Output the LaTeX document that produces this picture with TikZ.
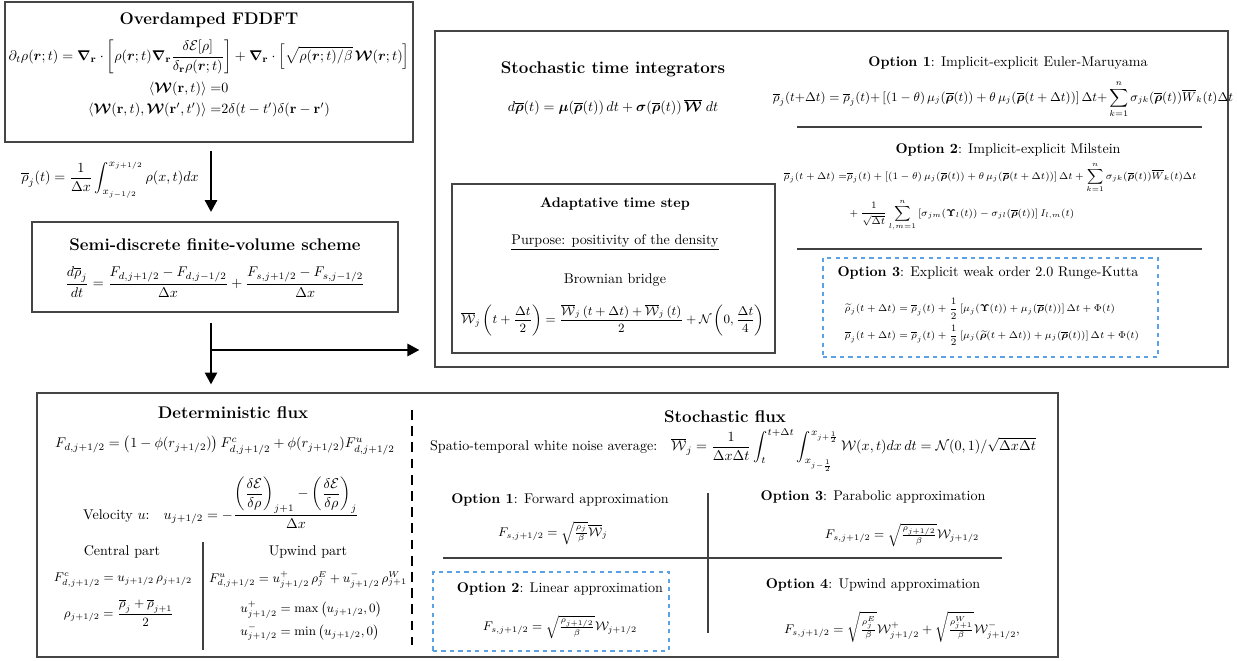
\documentclass[tikz,border=0pt]{standalone}
\usepackage{amssymb}
\usepackage{amsmath,bm}
\usetikzlibrary{arrows.meta,fit}

\definecolor{framegray}{HTML}{454545}
\definecolor{optionblue}{HTML}{5AA2E4}

\begin{document}
\begin{tikzpicture}[x=0.71pt, y=-0.71pt,
    frame/.style={draw=framegray, line width=2.1pt, inner sep=0pt},
    inner frame/.style={draw=framegray, line width=1.1pt, inner sep=0pt},
    option frame/.style={draw=optionblue, dashed, line width=0.8pt,
        inner sep=0pt},
    separator/.style={draw=black!75, line width=0.75pt},
    flow line/.style={draw=black, line width=2pt},
    flow/.style={flow line, -{Triangle[length=8.5pt, width=8.5pt]}},
    box title/.style={font=\large\bfseries, inner sep=1pt},
    sub title/.style={font=\bfseries, inner sep=1pt},
    formula/.style={inner sep=1pt},
    small formula/.style={formula, font=\small}
]
\path[use as bounding box] (0,0) rectangle (1237,661);

% Overdamped FDDFT
\node[frame, fit={(5,2) (413,142)}] (fddft) {};
\node[box title] (fddft-title) at (209,20) {Overdamped FDDFT};
\node[formula] (fddft-eq) at (209,57)
    {$\displaystyle \partial_t\rho(\bm r;t)=\bm\nabla_{\mathbf r}\cdot
    \left[\rho(\bm r;t)\bm\nabla_{\mathbf r}
    \frac{\delta\mathcal E[\rho]}{\delta_{\mathbf r}\rho(\bm r;t)}\right]
    +\bm\nabla_{\mathbf r}\cdot\left[\sqrt{\rho(\bm r;t)/\beta}\,
    \bm{\mathcal W}(\bm r;t)\right]$};
\node[formula] (fddft-noise) at (209,100)
    {$\begin{aligned}
    \langle\bm{\mathcal W}(\mathbf r,t)\rangle =&0\\
    \langle\bm{\mathcal W}(\mathbf r,t),\bm{\mathcal W}(\mathbf r',t')\rangle
    =&2\delta(t-t')\delta(\mathbf r-\mathbf r')
    \end{aligned}$};

% Cell average and semi-discrete scheme
\coordinate (split) at (211,350);
\node[formula] (average) at (110,180)
    {$\displaystyle \overline\rho_j(t)=\frac{1}{\Delta x}
    \int_{x_{j-1/2}}^{x_{j+1/2}}\rho(x,t)dx$};
\node[frame, fit={(32,222) (398,312)}] (semi) {};
\node[box title] (semi-title) at (215,245)
    {Semi-discrete finite-volume scheme};
\node[formula] (semi-eq) at (215,282)
    {$\displaystyle \frac{d\overline\rho_j}{dt}
    =\frac{F_{d,j+1/2}-F_{d,j-1/2}}{\Delta x}
    +\frac{F_{s,j+1/2}-F_{s,j-1/2}}{\Delta x}$};

% Stochastic time integrators
\node[frame, fit={(435,31) (1228,367)}] (integrators) {};
\node[box title] (integrators-title) at (613,69)
    {Stochastic time integrators};
\node[formula] (integrators-eq) at (613,107)
    {$d\overline{\bm\rho}(t)=\bm\mu(\overline{\bm\rho}(t))\,dt
    +\bm\sigma(\overline{\bm\rho}(t))\,\overline{\bm{\mathcal W}}\;dt$};

\node[formula] (euler-title) at (1008,63)
    {\textbf{Option 1}: Implicit-explicit Euler-Maruyama};
\node[small formula] (euler-eq) at (1003,99)
    {$\displaystyle \overline\rho_j(t{+}\Delta t)=\overline\rho_j(t){+}
    \left[(1-\theta)\,\mu_j(\overline{\bm\rho}(t))
    +\theta\,\mu_j(\overline{\bm\rho}(t+\Delta t))\right]\Delta t{+}
    \sum_{k=1}^n\sigma_{jk}(\overline{\bm\rho}(t))\overline W_k(t)\Delta t$};
\draw[separator] (797,127) -- (1202,127);

\node[formula] (milstein-title) at (1008,150)
    {\textbf{Option 2}: Implicit-explicit Milstein};
\node[formula, font=\fontsize{7.5}{9}\selectfont, anchor=north west]
    (milstein-eq) at (782,160)
    {$\displaystyle\begin{aligned}
    \overline\rho_j(t+\Delta t)=&\overline\rho_j(t)
    +\left[(1-\theta)\,\mu_j(\overline{\bm\rho}(t))
    +\theta\,\mu_j(\overline{\bm\rho}(t+\Delta t))\right]\Delta t
    +\sum_{k=1}^n\sigma_{jk}(\overline{\bm\rho}(t))\overline W_k(t)\Delta t\\
    &+\frac{1}{\sqrt{\Delta t}}\sum_{l,m=1}^n
    \left[\sigma_{jm}(\bm\Upsilon_l(t))-\sigma_{jl}(\overline{\bm\rho}(t))\right]
    I_{l,m}(t)
    \end{aligned}$};
\draw[separator] (797,249) -- (1202,249);

\node[option frame, fit={(823,258) (1158,357)}] (rk) {};
\node[formula] (rk-title) at (988,273)
    {\textbf{Option 3}: Explicit weak order 2.0 Runge-Kutta};
\node[formula, font=\fontsize{7.4}{9.3}\selectfont, anchor=west] (rk-eq)
    at (843,322)
    {$\begin{aligned}
    \widetilde\rho_j(t+\Delta t)&=\overline\rho_j(t)+\frac12
    \left[\mu_j(\bm\Upsilon(t))+\mu_j(\overline{\bm\rho}(t))\right]\Delta t
    +\Phi(t)\\
    \overline\rho_j(t+\Delta t)&=\overline\rho_j(t)+\frac12
    \left[\mu_j(\widetilde{\bm\rho}(t+\Delta t))+\mu_j(\overline{\bm\rho}(t))\right]
    \Delta t+\Phi(t)
    \end{aligned}$};

% Adaptative time step
\node[inner frame, fit={(452,184) (775,353)}] (adaptive) {};
\node[sub title] (adaptive-title) at (615,204) {Adaptative time step};
\node[formula] (purpose) at (615,242)
    {\underline{Purpose: positivity of the density}};
\node[formula] (bridge) at (615,280) {Brownian bridge};
\node[formula, font=\fontsize{9.2}{11}\selectfont] (bridge-eq) at (613,320)
    {$\displaystyle \overline{\mathcal W}_j\left(t+\frac{\Delta t}{2}\right)
    =\frac{\overline{\mathcal W}_j\,(t+\Delta t)+\overline{\mathcal W}_j\,(t)}{2}
    +\mathcal N\left(0,\frac{\Delta t}{4}\right)$};

% Fluxes
\node[frame, fit={(37,393) (1058,657)}] (fluxes) {};

\node[box title] (det-title) at (233,413) {Deterministic flux};
\node[formula] (det-eq) at (225,445)
    {$F_{d,j+1/2}=\big(1-\phi(r_{j+1/2})\big)\,F^c_{d,j+1/2}
    +\phi(r_{j+1/2})F^u_{d,j+1/2}$};
\node[formula] (velocity) at (221,503)
    {Velocity $u$:\quad $\displaystyle u_{j+1/2}=-\frac{
    \left(\dfrac{\delta\mathcal E}{\delta\rho}\right)_{j+1}
    -\left(\dfrac{\delta\mathcal E}{\delta\rho}\right)_{j}}{\Delta x}$};

\node[formula] (central) at (122,552) {Central part};
\node[small formula] (central-eq) at (123,580)
    {$F^c_{d,j+1/2}=u_{j+1/2}\,\rho_{j+1/2}$};
\node[small formula] (central-avg) at (119,613)
    {$\rho_{j+1/2}=\dfrac{\overline\rho_j+\overline\rho_{j+1}}{2}$};
\draw[separator] (203,542) -- (203,650);
\node[formula] (upwind) at (308,552) {Upwind part};
\node[small formula] (upwind-eq) at (308,580)
    {$F^u_{d,j+1/2}=u^+_{j+1/2}\,\rho^E_j+u^-_{j+1/2}\,\rho^W_{j+1}$};
\node[small formula] (upwind-split) at (311,621)
    {$\begin{aligned}
    u^+_{j+1/2}&=\max\left(u_{j+1/2},0\right)\\
    u^-_{j+1/2}&=\min\left(u_{j+1/2},0\right)
    \end{aligned}$};

\draw[line width=2pt, dash pattern=on 7pt off 4.5pt] (412,410) -- (412,645);

\node[box title] (sto-title) at (725,417) {Stochastic flux};
\node[formula] (noise-avg) at (733,450)
    {Spatio-temporal white noise average:\quad
    $\displaystyle \overline{\mathcal W}_j=\frac{1}{\Delta x\Delta t}
    \int_t^{t+\Delta t}\int_{x_{j-\frac12}}^{x_{j+\frac12}}
    \mathcal W(x,t)dx\,dt=\mathcal N(0,1)/\sqrt{\Delta x\Delta t}$};

\draw[separator] (708,493) -- (708,633);
\draw[separator] (443,558) -- (1002,558);

\node[formula] (forward-title) at (560,500)
    {\textbf{Option 1}: Forward approximation};
\node[small formula] (forward-eq) at (553,533)
    {$F_{s,j+1/2}=\sqrt{\frac{\rho_j}{\beta}}\overline{\mathcal W}_j$};

\node[option frame, fit={(433,572) (669,651)}] (linear) {};
\node[formula] (linear-title) at (560,589)
    {\textbf{Option 2}: Linear approximation};
\node[small formula] (linear-eq) at (560,627)
    {$F_{s,j+1/2}=\sqrt{\frac{\rho_{j+1/2}}{\beta}}\mathcal W_{j+1/2}$};

\node[formula] (parabolic-title) at (873,497)
    {\textbf{Option 3}: Parabolic approximation};
\node[small formula] (parabolic-eq) at (902,535)
    {$F_{s,j+1/2}=\sqrt{\frac{\rho_{j+1/2}}{\beta}}\mathcal W_{j+1/2}$};

\node[formula] (upwind-title) at (873,585)
    {\textbf{Option 4}: Upwind approximation};
\node[small formula] (upwind-noise) at (902,627)
    {$F_{s,j+1/2}=\sqrt{\frac{\rho^E_j}{\beta}}\mathcal W^+_{j+1/2}
    +\sqrt{\frac{\rho^W_{j+1}}{\beta}}\mathcal W^-_{j+1/2},$};

% Arrows
\draw[flow, shorten <=5.5pt, shorten >=6pt]
    (fddft.south -| split) -- (semi.north -| split);
\draw[flow line, shorten <=7pt] (semi.south -| split) -- (split);
\draw[flow, shorten >=10pt] (split) -- (integrators.west |- split);
\draw[flow, shorten >=5pt] (split) -- (fluxes.north -| split);

\end{tikzpicture}
\end{document}
